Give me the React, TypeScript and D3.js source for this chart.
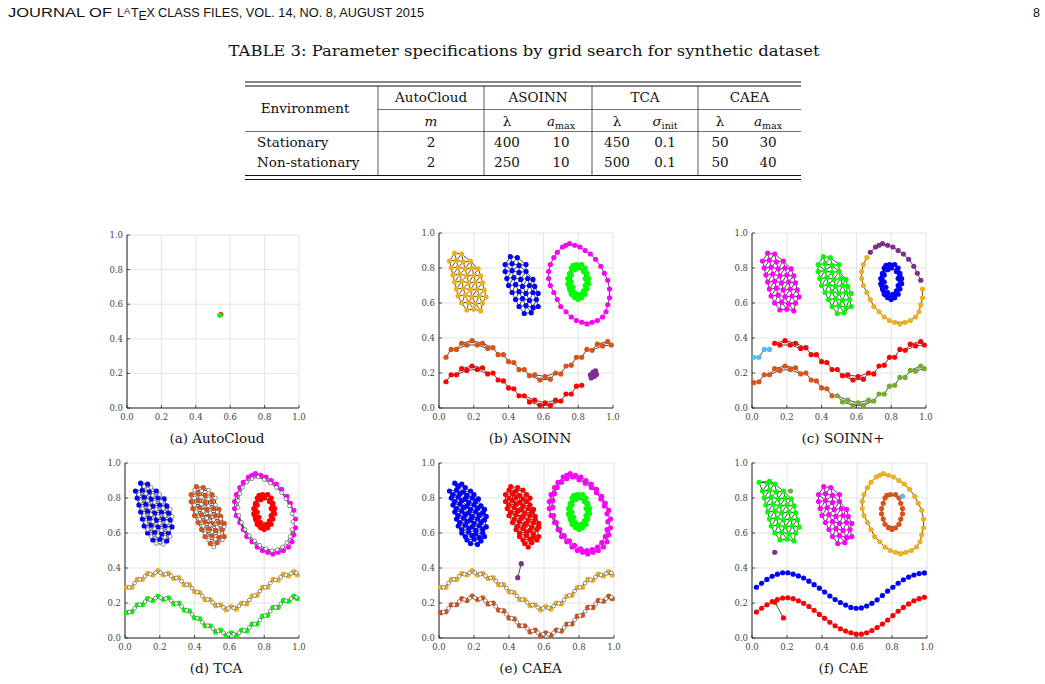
import { useMemo } from "react"
import * as d3 from "d3"

type Pt = [number, number]

const BLUE = "#0000ff"
const MAGENTA = "#ff00ff"
const GREEN = "#00ff00"
const RED = "#ff0000"
const ORANGE = "#edb120"
const BROWN = "#d95319"
const PURPLE = "#7e2f8e"
const SKY = "#4dbeee"
const OLIVE = "#77ac30"

// ---- table contents ----
const methods = ["AutoCloud", "ASOINN", "TCA", "CAEA"]
const paramSymbols: { sym: string; sub?: string; italic: boolean }[] = [
  { sym: "m", italic: true },
  { sym: "λ", italic: false },
  { sym: "a", sub: "max", italic: true },
  { sym: "λ", italic: false },
  { sym: "σ", sub: "init", italic: true },
  { sym: "λ", italic: false },
  { sym: "a", sub: "max", italic: true },
]
const environments = ["Stationary", "Non-stationary"]
const paramValues = [
  ["2", "400", "10", "450", "0.1", "50", "30"],
  ["2", "250", "10", "500", "0.1", "50", "40"],
]

const ticks = [0, 0.2, 0.4, 0.6, 0.8, 1.0]

// ---- node positions ----
const blobLeft: Pt[] = [
  [0.09, 0.885], [0.13, 0.88],
  [0.06, 0.84], [0.1, 0.845], [0.14, 0.835], [0.18, 0.84],
  [0.07, 0.8], [0.11, 0.805], [0.15, 0.795], [0.19, 0.8], [0.225, 0.795],
  [0.08, 0.76], [0.12, 0.765], [0.16, 0.755], [0.2, 0.76], [0.24, 0.755],
  [0.09, 0.72], [0.13, 0.725], [0.17, 0.715], [0.21, 0.72], [0.25, 0.715],
  [0.1, 0.68], [0.14, 0.685], [0.18, 0.675], [0.22, 0.68], [0.26, 0.675],
  [0.11, 0.64], [0.15, 0.645], [0.19, 0.635], [0.23, 0.64], [0.27, 0.635],
  [0.13, 0.6], [0.17, 0.605], [0.21, 0.595], [0.25, 0.6],
  [0.16, 0.56], [0.2, 0.565], [0.24, 0.555],
]
const blobLeftFill: Pt[] = [
  [0.11, 0.865], [0.15, 0.86],
  [0.08, 0.82], [0.12, 0.825], [0.16, 0.815], [0.2, 0.82],
  [0.09, 0.78], [0.13, 0.785], [0.17, 0.775], [0.21, 0.78],
  [0.1, 0.74], [0.14, 0.745], [0.18, 0.735], [0.22, 0.74], [0.26, 0.735],
  [0.11, 0.7], [0.15, 0.705], [0.19, 0.695], [0.23, 0.7], [0.27, 0.695],
  [0.12, 0.66], [0.16, 0.665], [0.2, 0.655], [0.24, 0.66],
  [0.13, 0.62], [0.17, 0.625], [0.21, 0.615], [0.25, 0.62],
  [0.15, 0.58], [0.19, 0.585], [0.23, 0.575], [0.26, 0.58],
  [0.18, 0.54], [0.22, 0.535],
]
const blobMid: Pt[] = [
  [0.41, 0.865], [0.45, 0.86],
  [0.38, 0.82], [0.42, 0.825], [0.46, 0.815], [0.5, 0.82],
  [0.38, 0.78], [0.42, 0.785], [0.46, 0.775], [0.5, 0.78],
  [0.39, 0.74], [0.43, 0.745], [0.47, 0.735], [0.51, 0.74], [0.54, 0.735],
  [0.4, 0.7], [0.44, 0.705], [0.48, 0.695], [0.52, 0.7], [0.55, 0.695],
  [0.42, 0.66], [0.46, 0.665], [0.5, 0.655], [0.54, 0.66], [0.57, 0.655],
  [0.44, 0.62], [0.48, 0.625], [0.52, 0.615], [0.56, 0.62],
  [0.46, 0.58], [0.5, 0.585], [0.54, 0.575], [0.57, 0.58],
  [0.49, 0.54], [0.53, 0.545],
]
const blobMidFill: Pt[] = [
  [0.4, 0.845], [0.44, 0.84], [0.48, 0.845],
  [0.4, 0.8], [0.44, 0.805], [0.48, 0.795], [0.52, 0.8],
  [0.4, 0.76], [0.44, 0.765], [0.48, 0.755], [0.52, 0.76],
  [0.41, 0.72], [0.45, 0.725], [0.49, 0.715], [0.53, 0.72],
  [0.43, 0.68], [0.47, 0.685], [0.51, 0.675], [0.55, 0.68],
  [0.45, 0.64], [0.49, 0.645], [0.53, 0.635], [0.57, 0.635],
  [0.46, 0.6], [0.5, 0.605], [0.54, 0.595],
  [0.48, 0.56], [0.52, 0.565], [0.56, 0.56],
  [0.51, 0.52],
]
const ringOuter: Pt[] = [
  [0.75, 0.94], [0.78, 0.93], [0.81, 0.92], [0.84, 0.9], [0.87, 0.88], [0.9, 0.85],
  [0.93, 0.81], [0.95, 0.77], [0.97, 0.73], [0.98, 0.68], [0.98, 0.63], [0.97, 0.59],
  [0.96, 0.55], [0.94, 0.52], [0.91, 0.5], [0.88, 0.49], [0.85, 0.48], [0.82, 0.49],
  [0.79, 0.5], [0.76, 0.52], [0.73, 0.55], [0.7, 0.58], [0.68, 0.62], [0.66, 0.66],
  [0.64, 0.7], [0.63, 0.74], [0.63, 0.78], [0.64, 0.82], [0.66, 0.86], [0.68, 0.89],
  [0.71, 0.92], [0.73, 0.93],
]
const ringOuterFill: Pt[] = [
  [0.765, 0.92], [0.8, 0.905], [0.835, 0.885], [0.87, 0.86], [0.9, 0.83], [0.925, 0.795],
  [0.945, 0.755], [0.96, 0.71], [0.965, 0.665], [0.96, 0.62], [0.95, 0.58], [0.93, 0.545],
  [0.905, 0.52], [0.875, 0.505], [0.845, 0.5], [0.81, 0.51], [0.775, 0.53], [0.745, 0.555],
  [0.715, 0.585], [0.69, 0.62], [0.67, 0.66], [0.655, 0.7], [0.65, 0.745], [0.65, 0.785],
  [0.66, 0.825], [0.675, 0.86], [0.7, 0.89], [0.73, 0.91],
]
const ringInner: Pt[] = [
  [0.79, 0.82], [0.82, 0.82], [0.84, 0.8], [0.85, 0.77], [0.86, 0.74], [0.86, 0.71],
  [0.85, 0.68], [0.84, 0.65], [0.82, 0.63], [0.8, 0.62], [0.78, 0.63], [0.76, 0.65],
  [0.75, 0.68], [0.74, 0.71], [0.74, 0.74], [0.75, 0.77], [0.76, 0.8], [0.77, 0.815],
  [0.8, 0.8], [0.83, 0.78], [0.84, 0.74], [0.84, 0.7], [0.83, 0.67], [0.81, 0.65],
  [0.78, 0.66], [0.77, 0.69], [0.76, 0.72], [0.76, 0.76], [0.78, 0.79],
]
const ringInnerFill: Pt[] = [
  [0.805, 0.815], [0.835, 0.79], [0.85, 0.755], [0.855, 0.72], [0.845, 0.685], [0.83, 0.655],
  [0.8, 0.635], [0.77, 0.645], [0.755, 0.67], [0.745, 0.7], [0.745, 0.735], [0.75, 0.765],
  [0.765, 0.795], [0.785, 0.81],
]
const waveUpper: Pt[] = [
  [0.01, 0.29], [0.04, 0.29], [0.07, 0.335], [0.1, 0.335], [0.13, 0.37], [0.16, 0.36],
  [0.19, 0.385], [0.22, 0.36], [0.25, 0.37], [0.28, 0.34], [0.31, 0.345], [0.34, 0.305],
  [0.37, 0.305], [0.4, 0.265], [0.43, 0.26], [0.46, 0.22], [0.49, 0.22], [0.52, 0.185],
  [0.55, 0.19], [0.58, 0.16], [0.61, 0.18], [0.64, 0.165], [0.67, 0.2], [0.7, 0.195],
  [0.73, 0.24], [0.76, 0.245], [0.79, 0.29], [0.82, 0.29], [0.85, 0.335], [0.88, 0.33],
  [0.91, 0.365], [0.94, 0.355], [0.97, 0.38], [0.99, 0.36],
]
const waveUpperMid: Pt[] = [
  [0.025, 0.29], [0.055, 0.313], [0.085, 0.335], [0.115, 0.353], [0.145, 0.365], [0.175, 0.373],
  [0.205, 0.373], [0.235, 0.365], [0.265, 0.355], [0.295, 0.343], [0.325, 0.325], [0.355, 0.305],
  [0.385, 0.285], [0.415, 0.263], [0.445, 0.24], [0.475, 0.22], [0.505, 0.203], [0.535, 0.188],
  [0.565, 0.175], [0.595, 0.17], [0.625, 0.172], [0.655, 0.183], [0.685, 0.198], [0.715, 0.218],
  [0.745, 0.243], [0.775, 0.268], [0.805, 0.29], [0.835, 0.313], [0.865, 0.333], [0.895, 0.348],
  [0.925, 0.36], [0.955, 0.368], [0.985, 0.372],
]
const waveLower: Pt[] = [
  [0.01, 0.145], [0.04, 0.15], [0.07, 0.19], [0.1, 0.19], [0.13, 0.225], [0.16, 0.215],
  [0.19, 0.24], [0.22, 0.22], [0.25, 0.23], [0.28, 0.195], [0.31, 0.2], [0.34, 0.16],
  [0.37, 0.155], [0.4, 0.115], [0.43, 0.11], [0.46, 0.07], [0.49, 0.07], [0.52, 0.035],
  [0.55, 0.045], [0.58, 0.015], [0.61, 0.03], [0.64, 0.015], [0.67, 0.045], [0.7, 0.04],
  [0.73, 0.08], [0.76, 0.08], [0.79, 0.125], [0.82, 0.13], [0.85, 0.175], [0.88, 0.175],
  [0.91, 0.215], [0.94, 0.21], [0.97, 0.24], [0.99, 0.225],
]
const waveLowerMid: Pt[] = [
  [0.025, 0.148], [0.055, 0.17], [0.085, 0.19], [0.115, 0.208], [0.145, 0.22], [0.175, 0.228],
  [0.205, 0.23], [0.235, 0.225], [0.265, 0.213], [0.295, 0.198], [0.325, 0.18], [0.355, 0.158],
  [0.385, 0.135], [0.415, 0.113], [0.445, 0.09], [0.475, 0.07], [0.505, 0.053], [0.535, 0.04],
  [0.565, 0.03], [0.595, 0.022], [0.625, 0.022], [0.655, 0.03], [0.685, 0.043], [0.715, 0.06],
  [0.745, 0.08], [0.775, 0.103], [0.805, 0.128], [0.835, 0.153], [0.865, 0.175], [0.895, 0.195],
  [0.925, 0.213], [0.955, 0.225], [0.985, 0.233],
]
const autoCloudRed: Pt[] = [[0.545, 0.54]]
const autoCloudGreen: Pt[] = [[0.54, 0.536]]
const asoinnTuft: Pt[] = [[0.87, 0.19], [0.885, 0.205], [0.9, 0.212], [0.892, 0.18], [0.875, 0.172], [0.905, 0.192]]
const caeaStick: Pt[] = [[0.45, 0.345], [0.47, 0.425]]
const caeLeftTail: Pt[] = [[0.04, 0.89], [0.1, 0.895]]
const caeOlive: Pt[] = [[0.22, 0.84]]
const caePurple: Pt[] = [[0.13, 0.49]]
const caeSky: Pt[] = [[0.86, 0.81]]
const caeSpur: Pt[] = [[0.13, 0.205], [0.18, 0.115]]

interface Cluster {
  nodes: Pt[]
  color: string
  extra?: Pt[]
  hollow?: boolean
  maxEdge?: number
}

interface Panel {
  caption: string
  x0: number
  x1: number
  y0: number
  y1: number
  clusters: Cluster[]
}

const upperArc = (p: Pt) => p[0] >= 0.675 && p[1] >= 0.7
const between = (lo: number, hi: number) => (p: Pt) => p[0] >= lo && p[0] < hi

const panels: Panel[] = [
  {
    caption: "(a) AutoCloud", x0: 127, x1: 299, y0: 408, y1: 235,
    clusters: [
      { nodes: autoCloudRed, color: RED },
      { nodes: autoCloudGreen, color: GREEN },
    ],
  },
  {
    caption: "(b) ASOINN", x0: 439, x1: 613, y0: 408, y1: 233,
    clusters: [
      { nodes: blobLeft, color: ORANGE },
      { nodes: blobMid, color: BLUE },
      { nodes: ringOuter, color: MAGENTA },
      { nodes: ringInner, extra: ringInnerFill, color: GREEN, maxEdge: 0.045 },
      { nodes: waveUpper.filter(between(0.03, 1)), color: BROWN },
      { nodes: waveLower.filter(between(0.03, 0.84)), color: RED },
      { nodes: asoinnTuft, color: PURPLE, maxEdge: 0.04 },
    ],
  },
  {
    caption: "(c) SOINN+", x0: 752, x1: 926, y0: 408, y1: 233,
    clusters: [
      { nodes: blobLeft, color: MAGENTA },
      { nodes: blobMid, color: GREEN },
      { nodes: ringOuter.filter(upperArc), color: PURPLE },
      { nodes: ringOuter.filter((p) => !upperArc(p)), color: ORANGE },
      { nodes: ringInner, extra: ringInnerFill, color: BLUE, maxEdge: 0.045 },
      { nodes: waveUpper.filter(between(0, 0.11)), color: SKY },
      { nodes: waveUpper.filter(between(0.12, 1)), color: RED },
      { nodes: waveLower.filter(between(0, 0.48)), color: BROWN },
      { nodes: waveLower.filter(between(0.48, 1)), color: OLIVE },
    ],
  },
  {
    caption: "(d) TCA", x0: 125, x1: 299, y0: 638, y1: 463,
    clusters: [
      { nodes: blobLeft, extra: blobLeftFill, hollow: true, color: BLUE, maxEdge: 0.045 },
      { nodes: blobMid, extra: blobMidFill, hollow: true, color: BROWN, maxEdge: 0.045 },
      { nodes: ringOuter, extra: ringOuterFill, hollow: true, color: MAGENTA, maxEdge: 0.045 },
      { nodes: ringInner, extra: ringInnerFill, color: RED, maxEdge: 0.045 },
      { nodes: waveUpper, extra: waveUpperMid, hollow: true, color: ORANGE, maxEdge: 0.04 },
      { nodes: waveLower, extra: waveLowerMid, hollow: true, color: GREEN, maxEdge: 0.04 },
    ],
  },
  {
    caption: "(e) CAEA", x0: 439, x1: 614, y0: 638, y1: 463,
    clusters: [
      { nodes: blobLeft, extra: blobLeftFill, color: BLUE, maxEdge: 0.045 },
      { nodes: blobMid, extra: blobMidFill, color: RED, maxEdge: 0.045 },
      { nodes: ringOuter, extra: ringOuterFill, color: MAGENTA, maxEdge: 0.045 },
      { nodes: ringInner, extra: ringInnerFill, color: GREEN, maxEdge: 0.045 },
      { nodes: caeaStick, color: PURPLE, maxEdge: 0.1 },
      { nodes: waveUpper, extra: waveUpperMid, hollow: true, color: ORANGE, maxEdge: 0.04 },
      { nodes: waveLower, extra: waveLowerMid, hollow: true, color: BROWN, maxEdge: 0.04 },
    ],
  },
  {
    caption: "(f) CAE", x0: 752, x1: 927, y0: 638, y1: 463,
    clusters: [
      { nodes: [...blobLeft, ...caeLeftTail], color: GREEN },
      { nodes: caeOlive, color: OLIVE },
      { nodes: caePurple, color: PURPLE },
      { nodes: blobMid, color: MAGENTA },
      { nodes: ringOuter, color: ORANGE },
      { nodes: ringInner.slice(0, 18), color: BROWN },
      { nodes: caeSky, color: SKY },
      { nodes: waveUpperMid, color: BLUE, maxEdge: 0.045 },
      { nodes: waveLowerMid, color: RED, maxEdge: 0.045 },
      { nodes: caeSpur, color: RED, maxEdge: 0.12 },
    ],
  },
]

// neighbourhood graph: Delaunay edges shorter than maxLen
function meshEdges(pts: Pt[], maxLen: number): [Pt, Pt][] {
  const out: [Pt, Pt][] = []
  if (pts.length < 2) return out
  if (pts.length === 2) {
    const [p, q] = pts
    if (Math.hypot(p[0] - q[0], p[1] - q[1]) <= maxLen) out.push([p, q])
    return out
  }
  const { triangles, halfedges } = d3.Delaunay.from(pts)
  for (let e = 0; e < triangles.length; e++) {
    if (e > halfedges[e]) {
      const p = pts[triangles[e]]
      const q = pts[triangles[e % 3 === 2 ? e - 2 : e + 1]]
      if (Math.hypot(p[0] - q[0], p[1] - q[1]) <= maxLen) out.push([p, q])
    }
  }
  return out
}

const SERIF = "'DejaVu Serif', 'Liberation Serif', serif"

function ScatterPanel({ panel }: { panel: Panel }) {
  const { x0, x1, y0, y1 } = panel
  const x = d3.scaleLinear().domain([0, 1]).range([x0, x1])
  const y = d3.scaleLinear().domain([0, 1]).range([y0, y1])

  const edges = useMemo(
    () =>
      panel.clusters.flatMap((c) =>
        meshEdges([...c.nodes, ...(c.extra ?? [])], c.maxEdge ?? 0.066)
      ),
    [panel]
  )

  return (
    <g>
      {ticks.map((t) => (
        <g key={t}>
          <line x1={x(t)} x2={x(t)} y1={y0} y2={y1} stroke="#dcdcdc" strokeWidth={0.8} />
          <line x1={x0} x2={x1} y1={y(t)} y2={y(t)} stroke="#dcdcdc" strokeWidth={0.8} />
          <line x1={x0} x2={x0 + 3} y1={y(t)} y2={y(t)} stroke="#262626" strokeWidth={0.8} />
          <line x1={x(t)} x2={x(t)} y1={y0} y2={y0 - 3} stroke="#262626" strokeWidth={0.8} />
          <text x={x0 - 4} y={y(t) + 3} textAnchor="end" fontSize={8.5} fill="#444">
            {t.toFixed(1)}
          </text>
          <text x={x(t)} y={y0 + 12} textAnchor="middle" fontSize={8.5} fill="#444">
            {t.toFixed(1)}
          </text>
        </g>
      ))}
      <line x1={x0} x2={x0} y1={y0} y2={y1} stroke="#262626" strokeWidth={1} />
      <line x1={x0} x2={x1} y1={y0} y2={y0} stroke="#262626" strokeWidth={1} />

      <g stroke="#000" strokeWidth={0.7}>
        {edges.map(([p, q], i) => (
          <line key={i} x1={x(p[0])} y1={y(p[1])} x2={x(q[0])} y2={y(q[1])} />
        ))}
      </g>
      {panel.clusters.map((c, ci) => (
        <g key={ci}>
          {c.nodes.map((p, i) => (
            <circle key={i} cx={x(p[0])} cy={y(p[1])} r={2.6} fill={c.color} />
          ))}
          {(c.extra ?? []).map((p, i) =>
            c.hollow ? (
              <circle key={"e" + i} cx={x(p[0])} cy={y(p[1])} r={1.9} fill="#fff" stroke="#222" strokeWidth={0.5} />
            ) : (
              <circle key={"e" + i} cx={x(p[0])} cy={y(p[1])} r={2.6} fill={c.color} />
            )
          )}
        </g>
      ))}

      <text x={(x0 + x1) / 2 + 4} y={y0 + 35} textAnchor="middle" fontSize={13.5} fill="#111">
        {panel.caption}
      </text>
    </g>
  )
}

// column centres of the parameter table
const colX = [431, 507, 561, 617, 665, 720, 768]
const methodSpans: [number, number][] = [[378, 484], [484, 592], [592, 698], [698, 801]]

function ParamTable() {
  const left = 245
  const right = 801
  return (
    <g fontFamily={SERIF} fontSize={13.5} fill="#111">
      <text x={524} y={56} textAnchor="middle" fontSize={15.5} textLength={591} lengthAdjust="spacingAndGlyphs">
        TABLE 3: Parameter specifications by grid search for synthetic dataset
      </text>
      <g stroke="#111">
        <line x1={left} x2={right} y1={82} y2={82} strokeWidth={1} />
        <line x1={left} x2={right} y1={86} y2={86} strokeWidth={1} />
        <line x1={378} x2={right} y1={109.5} y2={109.5} strokeWidth={0.6} />
        <line x1={left} x2={right} y1={131.5} y2={131.5} strokeWidth={0.6} />
        <line x1={left} x2={right} y1={175.5} y2={175.5} strokeWidth={1} />
        <line x1={left} x2={right} y1={179.5} y2={179.5} strokeWidth={1} />
        {methodSpans.map(([a]) => (
          <line key={a} x1={a} x2={a} y1={86} y2={175.5} strokeWidth={0.7} />
        ))}
      </g>
      <text x={305} y={113} textAnchor="middle">Environment</text>
      {methods.map((m, i) => (
        <text key={m} x={(methodSpans[i][0] + methodSpans[i][1]) / 2} y={102} textAnchor="middle">
          {m}
        </text>
      ))}
      {paramSymbols.map((s, i) => (
        <text key={i} x={colX[i]} y={126} textAnchor="middle">
          <tspan fontStyle={s.italic ? "italic" : "normal"}>{s.sym}</tspan>
          {s.sub && (
            <tspan fontSize={9.5} dy={2.5}>
              {s.sub}
            </tspan>
          )}
        </text>
      ))}
      {environments.map((env, r) => (
        <g key={env}>
          <text x={257} y={147 + r * 20}>{env}</text>
          {paramValues[r].map((v, i) => (
            <text key={i} x={colX[i]} y={147 + r * 20} textAnchor="middle">
              {v}
            </text>
          ))}
        </g>
      ))}
    </g>
  )
}

function RunningHead() {
  const sans = "'Liberation Sans', Arial, sans-serif"
  return (
    <g fontFamily={sans} fontSize={12.5} fill="#111">
      <text x={8} y={17} textLength={104} lengthAdjust="spacingAndGlyphs">JOURNAL OF</text>
      <text x={117} y={17}>L</text>
      <text x={124} y={13.5} fontSize={9}>A</text>
      <text x={131} y={17}>T</text>
      <text x={138.5} y={20}>E</text>
      <text x={146.5} y={17}>X</text>
      <text x={158} y={17} textLength={266} lengthAdjust="spacingAndGlyphs">
        CLASS FILES, VOL. 14, NO. 8, AUGUST 2015
      </text>
      <text x={1040} y={17} textAnchor="end">8</text>
    </g>
  )
}

export default function App() {
  return (
    <svg
      width={1045}
      height={684}
      style={{ position: "absolute", left: 0, top: 0, fontFamily: SERIF }}
    >
      <rect width={1045} height={684} fill="#fff" />
      <RunningHead />
      <ParamTable />
      {panels.map((p) => (
        <ScatterPanel key={p.caption} panel={p} />
      ))}
    </svg>
  )
}
